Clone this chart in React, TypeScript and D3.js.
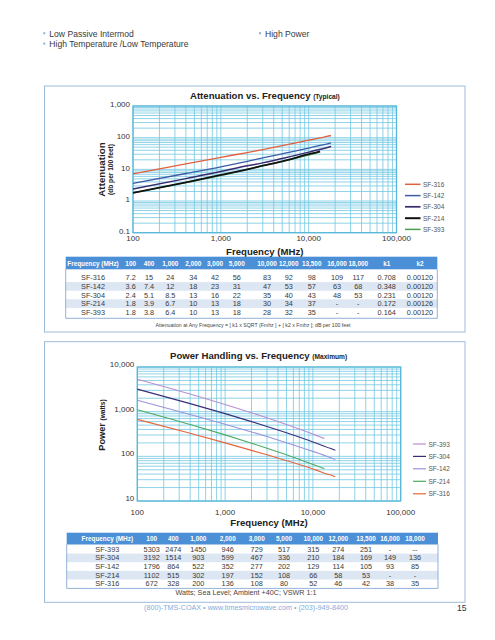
import React from "react";
import * as d3 from "d3";

// ---------- DATA ----------
const freqs = [100, 400, 1000, 2000, 3000, 5000, 10000, 12000, 13500, 16000, 18000];

const attNames = ["SF-316", "SF-142", "SF-304", "SF-214", "SF-393"];
const att316 = [7.2, 15, 24, 34, 42, 56, 83, 92, 98, 109, 117];
const att142 = [3.6, 7.4, 12, 18, 23, 31, 47, 53, 57, 63, 68];
const att304 = [2.4, 5.1, 8.5, 13, 16, 22, 35, 40, 43, 48, 53];
const att214: (number | string)[] = [1.8, 3.9, 6.7, 10, 13, 18, 30, 34, 37, "-", "-"];
const att393: (number | string)[] = [1.8, 3.8, 6.4, 10, 13, 18, 28, 32, 35, "-", "-"];
const k1Values = ["0.708", "0.348", "0.231", "0.172", "0.164"];
const k2Values = ["0.00120", "0.00120", "0.00120", "0.00126", "0.00120"];

const powNames = ["SF-393", "SF-304", "SF-142", "SF-214", "SF-316"];
const pow393: (number | string)[] = [5303, 2474, 1450, 946, 729, 517, 315, 274, 251, "-", "--"];
const pow304 = [3192, 1514, 903, 599, 467, 336, 210, 184, 169, 149, 136];
const pow142 = [1796, 864, 522, 352, 277, 202, 129, 114, 105, 93, 85];
const pow214: (number | string)[] = [1102, 515, 302, 197, 152, 108, 66, 58, 53, "-", "-"];
const pow316 = [672, 328, 200, 136, 108, 80, 52, 46, 42, 38, 35];

const attTicksY = [0.1, 1, 10, 100, 1000];
const powTicksY = [10, 100, 1000, 10000];
const freqTicks = [100, 1000, 10000, 100000];

const bulletsLeft = ["Low Passive Intermod", "High Temperature /Low Temperature"];
const bulletsRight = ["High Power"];

// ---------- STYLE ----------
const FONT = "'Liberation Sans', Arial, Helvetica, sans-serif";
const GRID = "#74c8e2";
const FRAME = "#5ab7d8";
const PANEL = "#9ebbd6";
const HEAD = "#4b8fd6";
const ALT = "#dde6f3";
const TXT = "#333";

const attColors: Record<string, string> = {
  "SF-316": "#e2603f",
  "SF-142": "#3c5ca8",
  "SF-304": "#3a2b6e",
  "SF-214": "#111111",
  "SF-393": "#4a9d4a",
};
const attWidths: Record<string, number> = {
  "SF-316": 1.3, "SF-142": 1.3, "SF-304": 1.5, "SF-214": 1.8, "SF-393": 1.3,
};
const powColors: Record<string, string> = {
  "SF-393": "#bb8fd2",
  "SF-304": "#3b2e78",
  "SF-142": "#9e92da",
  "SF-214": "#4cab62",
  "SF-316": "#e8643c",
};

const attData: Record<string, (number | string)[]> = {
  "SF-316": att316, "SF-142": att142, "SF-304": att304, "SF-214": att214, "SF-393": att393,
};
const powData: Record<string, (number | string)[]> = {
  "SF-393": pow393, "SF-304": pow304, "SF-142": pow142, "SF-214": pow214, "SF-316": pow316,
};

const fmt = d3.format(",");

type Pt = [number, number];
function pts(vals: (number | string)[]): Pt[] {
  const out: Pt[] = [];
  vals.forEach((v, i) => {
    if (typeof v === "number") out.push([freqs[i], v]);
  });
  return out;
}

function LogChart(props: {
  x: d3.ScaleLogarithmic<number, number>;
  y: d3.ScaleLogarithmic<number, number>;
  yTicks: number[];
  names: string[];
  drawOrder: string[];
  data: Record<string, (number | string)[]>;
  colors: Record<string, string>;
  widths?: Record<string, number>;
  legendX: number;
  legendY: number[];
  legendW: number;
  xLabelY: number;
  xTitleY: number;
  yLabelDy: number;
}) {
  const { x, y } = props;
  const [x0, x1] = x.range();
  const [y0, y1] = y.range();
  const line = d3
    .line<Pt>()
    .x((d) => x(d[0]))
    .y((d) => y(d[1]))
    .curve(d3.curveMonotoneX);
  const xt = x.ticks();
  const yt = y.ticks();
  return (
    <g>
      {yt.map((t, i) => (
        <line key={"gy" + i} x1={x0} x2={x1} y1={y(t)} y2={y(t)} stroke={GRID} strokeWidth={0.8} />
      ))}
      {xt.map((t, i) => (
        <line key={"gx" + i} x1={x(t)} x2={x(t)} y1={y0} y2={y1} stroke={GRID} strokeWidth={0.8} />
      ))}
      <rect x={x0} y={y1} width={x1 - x0} height={y0 - y1} fill="none" stroke={FRAME} strokeWidth={1.3} />
      {props.drawOrder.map((n) => (
        <path
          key={n}
          d={line(pts(props.data[n])) || ""}
          fill="none"
          stroke={props.colors[n]}
          strokeWidth={props.widths ? props.widths[n] : 1.1}
        />
      ))}
      {props.yTicks.map((t) => (
        <text
          key={"ly" + t}
          x={x0 - 3}
          y={y(t) + props.yLabelDy}
          textAnchor="end"
          dominantBaseline="central"
          fontSize={8}
          fill={TXT}
        >
          {fmt(t)}
        </text>
      ))}
      {freqTicks.map((t) => (
        <text key={"lx" + t} x={x(t)} y={props.xLabelY} textAnchor="middle" fontSize={8} fill={TXT}>
          {fmt(t)}
        </text>
      ))}
      <text
        x={(x0 + x1) / 2}
        y={props.xTitleY}
        textAnchor="middle"
        fontSize={9.6}
        fontWeight="bold"
        fill="#222"
      >
        Frequency (MHz)
      </text>
      {props.names.map((n, i) => (
        <g key={"lg" + n}>
          <line
            x1={props.legendX}
            x2={props.legendX + props.legendW}
            y1={props.legendY[i]}
            y2={props.legendY[i]}
            stroke={props.colors[n]}
            strokeWidth={props.widths ? props.widths[n] + 0.2 : 1.2}
          />
          <text
            x={props.legendX + props.legendW + 2.5}
            y={props.legendY[i]}
            dominantBaseline="central"
            fontSize={6.5}
            fill="#555"
          >
            {n}
          </text>
        </g>
      ))}
    </g>
  );
}

function Table(props: {
  x0: number;
  x1: number;
  headTop: number;
  headBot: number;
  rowY: number[];
  rowH: number;
  bottom: number;
  colX: number[];
  headers: string[];
  rows: string[][];
  shade: boolean[];
}) {
  const { x0, x1 } = props;
  return (
    <g>
      {props.rowY.map((cy, i) =>
        props.shade[i] ? (
          <rect key={"s" + i} x={x0} y={cy - props.rowH / 2} width={x1 - x0} height={props.rowH} fill={ALT} />
        ) : null
      )}
      <rect x={x0} y={props.headTop} width={x1 - x0} height={props.headBot - props.headTop} fill={HEAD} />
      <path
        d={`M${x0},${props.headBot}V${props.bottom}H${x1}V${props.headBot}`}
        fill="none"
        stroke="#86a9d2"
        strokeWidth={0.9}
      />
      {props.headers.map((h, j) => (
        <text
          key={"h" + j}
          x={props.colX[j]}
          y={(props.headTop + props.headBot) / 2}
          textAnchor="middle"
          dominantBaseline="central"
          fontSize={6.4}
          fontWeight="bold"
          fill="#fff"
        >
          {h}
        </text>
      ))}
      {props.rows.map((r, i) =>
        r.map((c, j) => (
          <text
            key={"c" + i + "-" + j}
            x={props.colX[j]}
            y={props.rowY[i]}
            textAnchor="middle"
            dominantBaseline="central"
            fontSize={7.3}
            fill="#3a3a3a"
          >
            {c}
          </text>
        ))
      )}
    </g>
  );
}

export default function App() {
  const attX = d3.scaleLog().domain([100, 100000]).range([133, 396.5]);
  const attY = d3.scaleLog().domain([0.1, 1000]).range([232.7, 106]);
  const powX = d3.scaleLog().domain([100, 100000]).range([137.3, 400.7]);
  const powY = d3.scaleLog().domain([10, 10000]).range([501, 367]);

  const freqHeads = freqs.map((f) => fmt(f));
  const attRows = attNames.map((n, i) => [
    n,
    ...attData[n].map((v) => String(v)),
    k1Values[i],
    k2Values[i],
  ]);
  const powRows = powNames.map((n) => [n, ...powData[n].map((v) => String(v))]);

  return (
    <svg
      width={495}
      height={640}
      style={{ position: "absolute", left: 0, top: 0, background: "#fff" }}
      fontFamily={FONT}
    >
      <rect x={0} y={0} width={495} height={640} fill="#fff" />
      {/* bullets */}
      {bulletsLeft.map((b, i) => (
        <g key={"bl" + i}>
          <rect x={43.3} y={32.2 + i * 10.4} width={2} height={2} fill="#8fb2cf" />
          <text x={49.3} y={36.6 + i * 10.4} fontSize={8.6} fill="#3a3a3a">
            {b}
          </text>
        </g>
      ))}
      {bulletsRight.map((b, i) => (
        <g key={"br" + i}>
          <rect x={259} y={32.2 + i * 10.4} width={2} height={2} fill="#8fb2cf" />
          <text x={265} y={36.6 + i * 10.4} fontSize={8.6} fill="#3a3a3a">
            {b}
          </text>
        </g>
      ))}

      {/* ---------- Attenuation panel ---------- */}
      <rect x={44.5} y={86} width={420.5} height={246} fill="none" stroke={PANEL} strokeWidth={1} />
      <text x={190} y={98.8} fontSize={9.6} fontWeight="bold" fill="#222">
        Attenuation vs. Frequency <tspan fontSize={6.6}>(Typical)</tspan>
      </text>
      <g transform="translate(104.5,169.5) rotate(-90)">
        <text textAnchor="middle" fontSize={9.8} fontWeight="bold" fill="#222">
          Attenuation
        </text>
      </g>
      <g transform="translate(113,169.5) rotate(-90)">
        <text textAnchor="middle" fontSize={6.6} fontWeight="bold" fill="#222">
          (db per 100 feet)
        </text>
      </g>
      <LogChart
        x={attX}
        y={attY}
        yTicks={attTicksY}
        names={attNames}
        drawOrder={["SF-393", "SF-214", "SF-304", "SF-142", "SF-316"]}
        data={attData}
        colors={attColors}
        widths={attWidths}
        legendX={405}
        legendY={[184.3, 195.6, 206.8, 218.2, 229.4]}
        legendW={15.5}
        xLabelY={241.2}
        xTitleY={254.8}
        yLabelDy={-1.2}
      />
      <Table
        x0={65.7}
        x1={437.3}
        headTop={256.7}
        headBot={269.3}
        rowY={[277.8, 286.4, 295, 303.6, 312.2]}
        rowH={8.6}
        bottom={318.3}
        colX={[93, 130.7, 149, 170.3, 193.3, 215, 236.7, 267, 288.7, 311.7, 337, 358.3, 386.7, 420]}
        headers={["Frequency (MHz)", ...freqHeads, "k1", "k2"]}
        rows={attRows}
        shade={[false, true, false, true, false]}
      />
      <text x={253} y={324.5} textAnchor="middle" dominantBaseline="central" fontSize={5.2} fill="#444">
        Attenuation at Any Frequency = [ k1 x SQRT (Fmhz ] + [ k2 x Fmhz ]; dB per 100 feet
      </text>

      {/* ---------- Power panel ---------- */}
      <rect x={44.5} y={341.7} width={420.5} height={260.6} fill="none" stroke={PANEL} strokeWidth={1} />
      <text x={170} y={359.2} fontSize={9.6} fontWeight="bold" fill="#222">
        Power Handling vs. Frequency <tspan fontSize={6.6}>(Maximum)</tspan>
      </text>
      <g transform="translate(104.5,425) rotate(-90)">
        <text textAnchor="middle" fontWeight="bold" fill="#222">
          <tspan fontSize={9.2}>Power </tspan>
          <tspan fontSize={6.6}>(watts)</tspan>
        </text>
      </g>
      <LogChart
        x={powX}
        y={powY}
        yTicks={powTicksY}
        names={powNames}
        drawOrder={["SF-316", "SF-214", "SF-142", "SF-304", "SF-393"]}
        data={powData}
        colors={powColors}
        legendX={413}
        legendY={[444, 456.4, 468.8, 481.3, 493.8]}
        legendW={13}
        xLabelY={514.6}
        xTitleY={526.2}
        yLabelDy={-2.6}
      />
      <Table
        x0={66.7}
        x1={438}
        headTop={532.7}
        headBot={544.5}
        rowY={[549.3, 557.9, 566.6, 575.2, 583.9]}
        rowH={8.65}
        bottom={588.4}
        colX={[107.3, 151.7, 173.3, 198.3, 227.7, 256.7, 284, 313.3, 338.3, 366, 390, 415]}
        headers={["Frequency (MHz)", ...freqHeads]}
        rows={powRows}
        shade={[false, true, false, true, false]}
      />
      <text x={246} y={592.8} textAnchor="middle" dominantBaseline="central" fontSize={7.2} fill="#444">
        Watts; Sea Level; Ambient +40C; VSWR 1:1
      </text>

      {/* footer */}
      <text x={246} y={607.6} textAnchor="middle" dominantBaseline="central" fontSize={7.2} fill="#86abd9">
        (800)-TMS-COAX • www.timesmicrowave.com • (203)-949-8400
      </text>
      <text x={461.7} y={608.3} textAnchor="middle" dominantBaseline="central" fontSize={8.6} fill="#333">
        15
      </text>
    </svg>
  );
}
